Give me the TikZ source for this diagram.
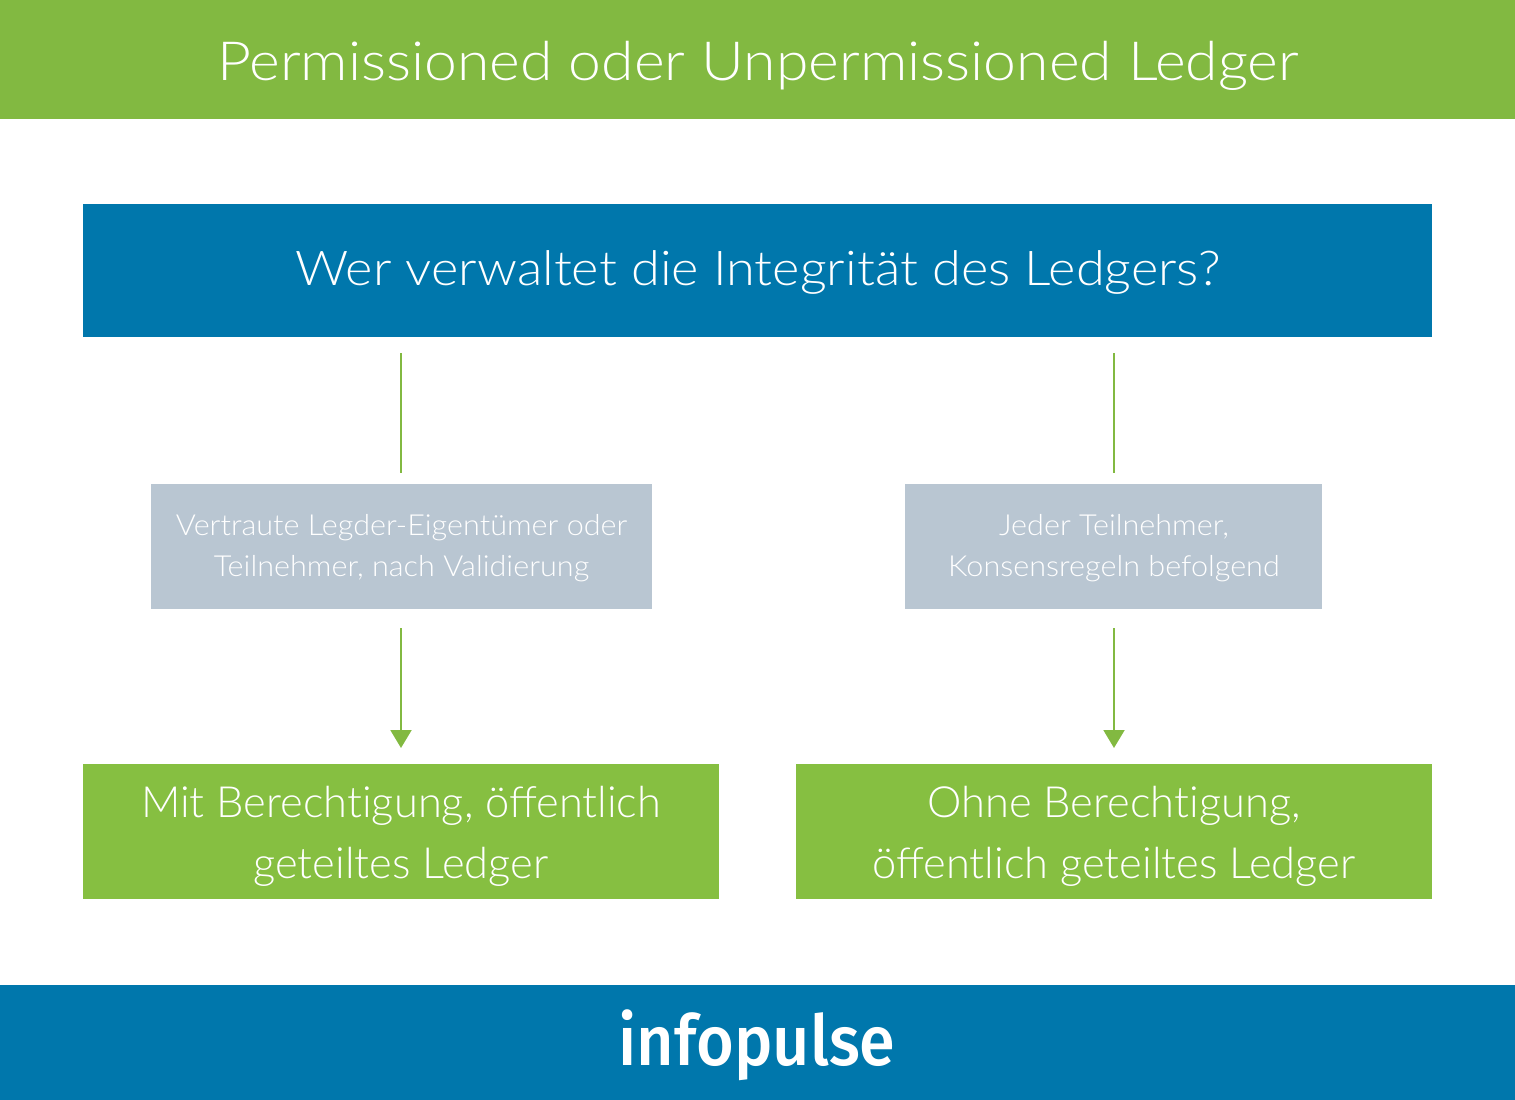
\documentclass[tikz,border=0pt]{standalone}
\usepackage{fontspec}
\setmainfont{Lato Light}
\newfontfamily\logofont{Fira Sans Medium}[FakeStretch=0.925]
\newfontfamily\bigfont{Lato Light}[FakeStretch=1.09]
\newfontfamily\labfont{Lato Light}[FakeStretch=1.01]
\newfontfamily\smallfont{Lato Light}[FakeStretch=1.055]
\definecolor{grn}{HTML}{82B941}
\definecolor{grnb}{HTML}{86BF41}
\definecolor{blu}{HTML}{0077AC}
\definecolor{gry}{HTML}{B9C6D2}
\usetikzlibrary{arrows.meta}
\tikzset{
 box/.style={draw=none,minimum height=#1,inner sep=0pt,anchor=north west,align=center,text=white},
 conn/.style={draw=grn,line width=2pt},
 arrowc/.style={draw=grn,line width=2pt,-{Triangle[length=18pt,width=21pt,fill=grn]}},
 big/.style={font=\bigfont\fontsize{54}{54}\selectfont},
 mid/.style={font=\bigfont\fontsize{48}{48}\selectfont},
 lab/.style={font=\labfont\fontsize{43}{61}\selectfont},
 small/.style={font=\smallfont\fontsize{29}{41}\selectfont}
}
\begin{document}
\begin{tikzpicture}[x=1pt,y=-1pt]
\useasboundingbox (0,0) rectangle (1515,1100);
\node[box=119pt,minimum width=1515pt,fill=grn,big] (title) at (0,0) {};
\node[text=white,big] (titlet) at (758,66) {Permissioned oder Unpermissioned Ledger};
\node[box=133pt,minimum width=1349pt,fill=blu] (q) at (83,204) {};
\node[text=white,mid] (qt) at (758,272.5) {Wer verwaltet die Integrität des Ledgers?};
\node[box=125pt,minimum width=501pt,fill=gry] (l) at (151,484) {};
\node[text=white,small,align=center] (lt) at (401.5,548.5) {Vertraute Legder-Eigentümer oder\\Teilnehmer, nach Validierung};
\node[box=125pt,minimum width=417pt,fill=gry] (r) at (905,484) {};
\node[text=white,small,align=center] (rt) at (1114,548.5) {Jeder Teilnehmer,\\Konsensregeln befolgend};
\node[box=135pt,minimum width=636pt,fill=grnb] (a) at (83,764) {};
\node[text=white,lab,align=center] (at) at (401,836) {Mit Berecht\kern0pt igung, öffentlich\\geteiltes Ledger};
\node[box=135pt,minimum width=636pt,fill=grnb] (b) at (796,764) {};
\node[text=white,lab,align=center] (bt) at (1114,836) {Ohne Berecht\kern0pt igung,\\öffentlich geteiltes Ledger};
\node[box=115pt,minimum width=1515pt,fill=blu] (foot) at (0,985) {};
\node[text=white,font=\logofont\fontsize{70}{70}\selectfont] (logo) at (757,1045) {infopulse};
\coordinate (l1) at (401,353); \coordinate (l2) at (401,473);
\coordinate (l3) at (401,628); \coordinate (l4) at (401,748);
\coordinate (r1) at (1114,353); \coordinate (r2) at (1114,473);
\coordinate (r3) at (1114,628); \coordinate (r4) at (1114,748);
\draw[conn] (l1) -- (l2);
\draw[conn] (r1) -- (r2);
\draw[arrowc] (l3) -- (l4);
\draw[arrowc] (r3) -- (r4);
\end{tikzpicture}
\end{document}
